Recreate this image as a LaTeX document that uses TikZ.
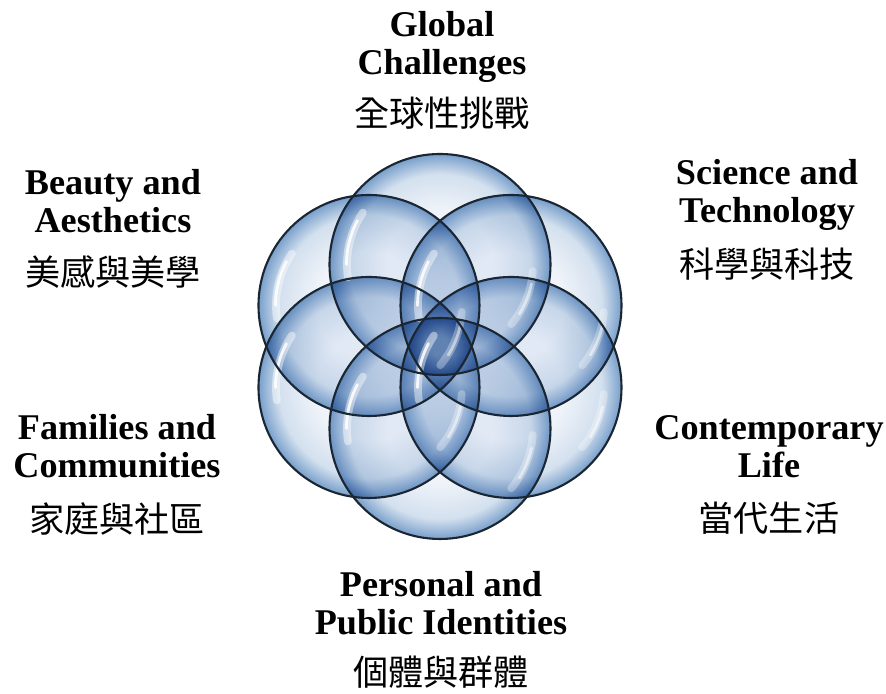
\documentclass[tikz,border=0pt]{standalone}
\usepackage{fontspec}
\setmainfont{Liberation Serif}
\newfontfamily\cjk{Noto Sans CJK TC}
\usetikzlibrary{positioning}

\definecolor{bubblein}{HTML}{F0F4FA}
\definecolor{bubblemid}{HTML}{D3E0EE}
\definecolor{bubbleout}{HTML}{789FCB}
\definecolor{bubbleedge}{HTML}{1B2633}

% light body, blue rim
\pgfdeclareradialshading{bubble}{\pgfpoint{0bp}{0bp}}{%
  color(0bp)=(bubblein); color(12bp)=(bubblein); color(20.5bp)=(bubblemid);
  color(25bp)=(bubbleout); color(50bp)=(bubbleout)}

\begin{document}
\begin{tikzpicture}[
  lbl/.style={font=\bfseries\fontsize{10.3}{10.8}\selectfont, align=center, inner sep=0pt},
  zh/.style={font=\cjk\fontsize{10}{12}\selectfont, inner sep=0pt},
  ring/.style={draw=bubbleedge, line width=0.6pt},
  gloss/.style={white, line width=2.2pt, line cap=round, opacity=0.45},
  glint/.style={white, line width=0.8pt, line cap=round, opacity=0.85}
]
\useasboundingbox (-4.40,-3.475) rectangle (4.46,3.465);

% centres of the six bubbles
\coordinate (ctr) at (0,0);
\coordinate (b1) at (90:0.82);
\coordinate (b2) at (30:0.82);
\coordinate (b3) at (-30:0.82);
\coordinate (b4) at (-90:0.82);
\coordinate (b5) at (210:0.82);
\coordinate (b6) at (150:0.82);

\begin{scope}[blend mode=multiply]
  \foreach \b in {b1,b2,b3,b4,b5,b6}
    \shade[shading=bubble] (\b) circle (1.105);
\end{scope}

% glossy streaks
\foreach \b in {b1,b2,b3,b4,b5,b6} {
  \draw[gloss] (\b) ++(146:0.93) arc[start angle=146, end angle=188, radius=0.93];
  \draw[glint] (\b) ++(152:0.935) arc[start angle=152, end angle=180, radius=0.935];
  \draw[gloss, opacity=0.3] (\b) ++(-40:0.93) arc[start angle=-40, end angle=-4, radius=0.93];
  \draw[glint, opacity=0.5] (\b) ++(-32:0.935) arc[start angle=-32, end angle=-12, radius=0.935];
}

\foreach \b in {b1,b2,b3,b4,b5,b6}
  \draw[ring] (\b) circle (1.105);

% theme labels
\node[lbl] (glob) at (0.02,3.00) {Global\\Challenges};
\node[zh] (globzh) at (0.02,2.33) {全球性挑戰};
\node[lbl] (beauty) at (-3.27,1.45) {Beauty and\\Aesthetics};
\node[zh] (beautyzh) at (-3.27,0.74) {美感與美學};
\node[lbl] (science) at (3.27,1.52) {Science and\\Technology};
\node[zh] (sciencezh) at (3.27,0.82) {科學與科技};
\node[lbl] (families) at (-3.23,-1.00) {Families and\\Communities};
\node[zh] (familieszh) at (-3.23,-1.73) {家庭與社區};
\node[lbl] (contemp) at (3.29,-1.00) {Contemporary\\Life};
\node[zh] (contempzh) at (3.29,-1.72) {當代生活};
\node[lbl] (personal) at (0.01,-2.57) {Personal and\\Public Identities};
\node[zh] (personalzh) at (0.01,-3.26) {個體與群體};
\end{tikzpicture}
\end{document}
